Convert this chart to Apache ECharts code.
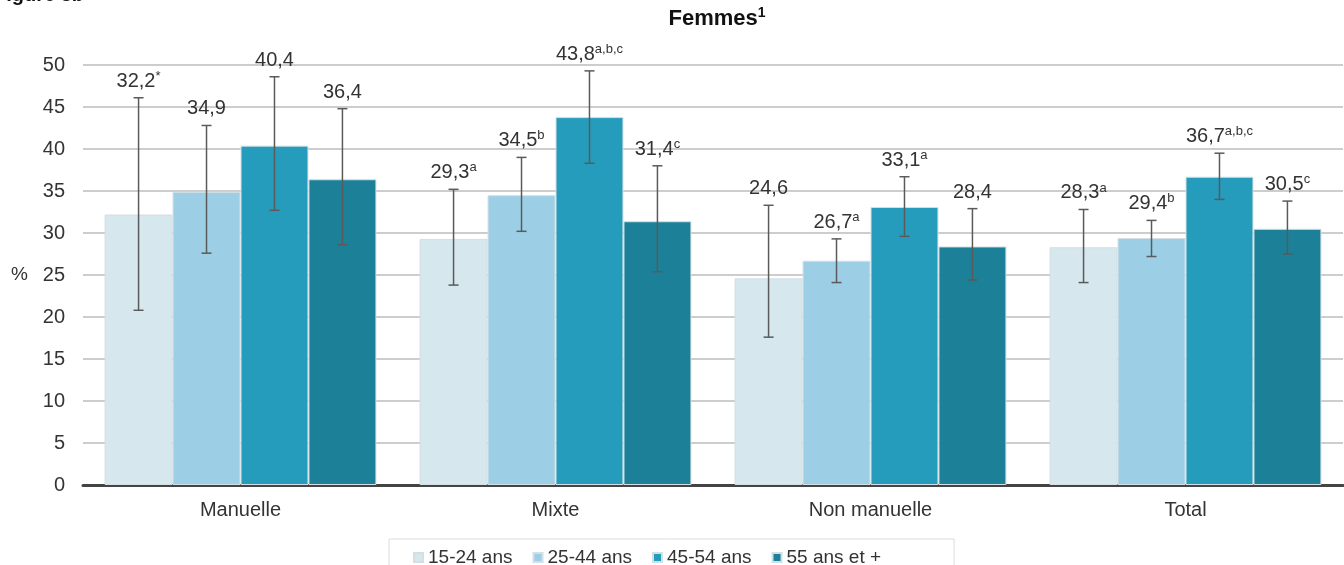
<!DOCTYPE html>
<html>
<head>
<meta charset="utf-8">
<script src="https://cdn.jsdelivr.net/npm/echarts@6/dist/echarts.min.js"></script>
<style>
html,body{margin:0;padding:0;background:#fff;}
#chart{width:1344px;height:565px;}
</style>
</head>
<body>
<div id="chart"></div>
<script>
const categories = ['Manuelle', 'Mixte', 'Non manuelle', 'Total'];
const seriesNames = ['15-24 ans', '25-44 ans', '45-54 ans', '55 ans et +'];
const yTicks = [0, 5, 10, 15, 20, 25, 30, 35, 40, 45, 50];

const v1524 = [32.2, 29.3, 24.6, 28.3];
const v2544 = [34.9, 34.5, 26.7, 29.4];
const v4554 = [40.4, 43.8, 33.1, 36.7];
const v55plus = [36.4, 31.4, 28.4, 30.5];

const lo1524 = [20.8, 23.8, 17.6, 24.1];
const hi1524 = [46.1, 35.2, 33.3, 32.8];
const lo2544 = [27.6, 30.2, 24.1, 27.2];
const hi2544 = [42.8, 39.0, 29.3, 31.5];
const lo4554 = [32.7, 38.3, 29.6, 34.0];
const hi4554 = [48.6, 49.3, 36.7, 39.5];
const lo55plus = [28.6, 25.4, 24.4, 27.5];
const hi55plus = [44.8, 38.0, 32.9, 33.8];

const sup1524 = ['*', 'a', '', 'a'];
const sup2544 = ['', 'b', 'a', 'b'];
const sup4554 = ['', 'a,b,c', 'a', 'a,b,c'];
const sup55plus = ['', 'c', '', 'c'];

const values = [v1524, v2544, v4554, v55plus];
const lows = [lo1524, lo2544, lo4554, lo55plus];
const highs = [hi1524, hi2544, hi4554, hi55plus];
const sups = [sup1524, sup2544, sup4554, sup55plus];
const colors = ['#d6e7ed', '#9ccfe5', '#269cbc', '#1c8099'];

const CAT_GAP = 0.137;
const FONT = '"Liberation Sans", Arial, sans-serif';
const rich = {
  v: { fontSize: 20, fontFamily: FONT, color: '#333', lineHeight: 23 },
  s: { fontSize: 13, fontFamily: FONT, color: '#333', lineHeight: 13, verticalAlign: 'top' }
};

function fmt(x) { return x.toFixed(1).replace('.', ','); }

const series = [];
seriesNames.forEach((name, k) => {
  series.push({
    name: name,
    type: 'bar',
    data: values[k],
    barGap: '0%',
    barCategoryGap: (CAT_GAP * 100) + '%',
    itemStyle: { color: colors[k], borderColor: '#d3dfe4', borderWidth: 1 },
    z: 2
  });
});
seriesNames.forEach((name, k) => {
  series.push({
    type: 'custom',
    z: 5,
    clip: false,
    data: categories.map((c, i) => [i, lows[k][i], highs[k][i], values[k][i]]),
    encode: { x: 0, y: [1, 2] },
    renderItem: function (params, api) {
      const ci = api.value(0);
      const lo = api.value(1), hi = api.value(2), val = api.value(3);
      const band = api.size([1, 0])[0];
      const groupW = band * (1 - CAT_GAP);
      const bw = groupW / 4;
      const cx = api.coord([ci, 0])[0] - groupW / 2 + bw * (k + 0.5);
      const yLo = api.coord([ci, lo])[1];
      const yHi = api.coord([ci, hi])[1];
      const cap = 5;
      const ls = { stroke: '#5a5a5a', lineWidth: 1.5 };
      const s = sups[k][ci];
      const txt = '{v|' + fmt(val) + '}' + (s ? '{s|' + s + '}' : '');
      return {
        type: 'group',
        children: [
          { type: 'line', shape: { x1: cx, y1: yLo, x2: cx, y2: yHi }, style: ls },
          { type: 'line', shape: { x1: cx - cap, y1: yLo, x2: cx + cap, y2: yLo }, style: ls },
          { type: 'line', shape: { x1: cx - cap, y1: yHi, x2: cx + cap, y2: yHi }, style: ls },
          { type: 'text', x: cx, y: yHi - 5,
            style: { text: txt, rich: rich, align: 'center', verticalAlign: 'bottom', fill: '#333' } }
        ]
      };
    }
  });
});

const chart = echarts.init(document.getElementById('chart'), null, { renderer: 'canvas' });
chart.setOption({
  animation: false,
  backgroundColor: '#ffffff',
  textStyle: { fontFamily: FONT },
  title: {
    text: '{t|Femmes}{s|1}',
    left: 712, top: 1, textAlign: 'center',
    textStyle: {
      rich: {
        t: { fontSize: 22, fontWeight: 'bold', fontFamily: FONT, color: '#111', lineHeight: 26 },
        s: { fontSize: 14, fontFamily: FONT, color: '#111', lineHeight: 14, verticalAlign: 'top' }
      }
    }
  },
  graphic: [{
    type: 'text', left: -6, top: -15,
    style: { text: 'Figure 3b', font: 'bold 20px ' + FONT, fill: '#111' }
  }],
  legend: {
    data: seriesNames,
    left: 389, top: 539,
    padding: [9, 73, 8, 24],
    borderColor: '#dcdcdc', borderWidth: 1,
    icon: 'rect', itemWidth: 9, itemHeight: 9, itemGap: 20,
    textStyle: { fontSize: 19, color: '#333', fontFamily: FONT }
  },
  grid: { left: 83, right: 1, top: 65, bottom: 80, containLabel: false },
  xAxis: {
    type: 'category',
    data: categories,
    axisLine: { lineStyle: { color: '#444', width: 3 } },
    axisTick: { show: false },
    axisLabel: { fontSize: 20, color: '#333', margin: 15, fontFamily: FONT },
    splitLine: { show: false }
  },
  yAxis: {
    type: 'value',
    min: yTicks[0], max: yTicks[yTicks.length - 1], interval: 5,
    name: '%', nameLocation: 'middle', nameRotate: 0, nameGap: 55,
    nameTextStyle: { fontSize: 19, color: '#333', fontFamily: FONT },
    axisLine: { show: false },
    axisTick: { show: false },
    axisLabel: { fontSize: 20, color: '#333', margin: 18, fontFamily: FONT },
    splitLine: { lineStyle: { color: '#cdcdcd', width: 2 } }
  },
  series: series
});
</script>
</body>
</html>
